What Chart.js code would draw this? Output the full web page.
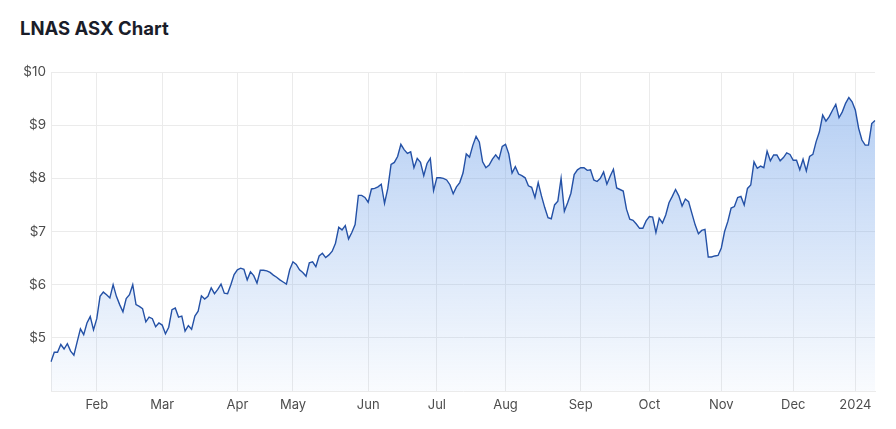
<!DOCTYPE html>
<html lang="en">
<head>
<meta charset="UTF-8">
<title>LNAS ASX Chart</title>
<script src="https://cdn.jsdelivr.net/npm/chart.js"></script>
<style>
    body {
        margin: 0;
        background: #fff;
        font-family: Inter, 'Noto Sans', Arial, sans-serif;
    }
    .wrap {
        position: relative;
        width: 896px;
        height: 429px;
    }
    h1 {
        position: absolute;
        left: 20px;
        top: 19px;
        margin: 0;
        font-size: 18.5px;
        line-height: 18px;
        font-weight: 700;
        color: #1a1d29;
    }
    canvas {
        position: absolute;
        left: 0;
        top: 0;
    }
</style>
</head>
<body>
<div class="wrap">
    <h1>LNAS ASX Chart</h1>
    <canvas id="chart" width="896" height="429"></canvas>
</div>
<script>
// trading days: first and last session, ASX holidays in between
const firstDay = '2023-01-11';
const lastDay = '2024-01-10';
const holidays = ['2023-01-26', '2023-04-07', '2023-04-10', '2023-04-25',
    '2023-06-12', '2023-12-25', '2023-12-26', '2024-01-01'];

// closing price, one per trading day
const prices = [
    4.55, 4.73, 4.73, 4.875, 4.79, 4.89, 4.75, 4.675, 4.925, 5.17, 5.06, 5.28, 5.4, 5.15,
    5.36, 5.78, 5.86, 5.81, 5.75, 6.0, 5.78, 5.625, 5.49, 5.74, 5.81, 6.0, 5.625, 5.59, 5.55, 5.3, 5.39, 5.36, 5.21, 5.28,
    5.24, 5.075, 5.2, 5.53, 5.56, 5.39, 5.41, 5.125, 5.23, 5.16, 5.41, 5.5, 5.79, 5.73, 5.78, 5.94, 5.83, 5.91, 6.01, 5.84, 5.83, 6.0, 6.19,
    6.28, 6.31, 6.29, 6.09, 6.24, 6.17, 6.03, 6.27, 6.27, 6.26, 6.23, 6.18, 6.14, 6.09, 6.05, 6.01, 6.28,
    6.43, 6.38, 6.28, 6.23, 6.16, 6.41, 6.43, 6.34, 6.54, 6.59, 6.51, 6.56, 6.63, 6.78, 7.08, 7.03, 7.11, 6.86, 6.98, 7.13, 7.68, 7.68, 7.64,
    7.55, 7.8, 7.81, 7.84, 7.89, 7.53, 7.81, 8.26, 8.3, 8.41, 8.64, 8.54, 8.47, 8.5, 8.2, 8.375, 8.3, 8.05, 8.28, 8.375, 7.77,
    8.01, 8.01, 8.0, 7.97, 7.88, 7.71, 7.84, 7.92, 8.1, 8.46, 8.4, 8.62, 8.79, 8.68, 8.31, 8.2, 8.25, 8.36, 8.44, 8.36, 8.6,
    8.64, 8.46, 8.1, 8.22, 8.08, 8.05, 8.01, 7.86, 7.83, 7.64, 7.92, 7.67, 7.45, 7.26, 7.24, 7.5, 7.57, 8.0, 7.38, 7.54, 7.72, 8.07, 8.16,
    8.2, 8.2, 8.15, 8.16, 7.97, 7.94, 8.0, 8.12, 7.89, 8.04, 8.17, 7.82, 7.79, 7.76, 7.42, 7.23, 7.21, 7.14, 7.06, 7.06, 7.2,
    7.28, 7.27, 6.98, 7.25, 7.16, 7.31, 7.54, 7.66, 7.79, 7.67, 7.48, 7.61, 7.56, 7.34, 7.125, 6.96, 7.02, 7.04, 6.52, 6.52, 6.54, 6.55,
    6.69, 7.0, 7.19, 7.44, 7.47, 7.64, 7.66, 7.5, 7.81, 7.875, 8.31, 8.19, 8.23, 8.2, 8.51, 8.33, 8.44, 8.44, 8.33, 8.39, 8.48, 8.45,
    8.34, 8.34, 8.16, 8.36, 8.14, 8.41, 8.45, 8.69, 8.875, 9.19, 9.075, 9.16, 9.28, 9.39, 9.14, 9.25, 9.41, 9.52, 9.44,
    9.28, 8.94, 8.72, 8.625, 8.625, 9.03, 9.09
];

const monthNames = ['Jan', 'Feb', 'Mar', 'Apr', 'May', 'Jun', 'Jul', 'Aug', 'Sep', 'Oct', 'Nov', 'Dec'];
const yTicks = [5, 6, 7, 8, 9, 10];

const dates = [];
for (let d = new Date(firstDay + 'T00:00:00Z'); d <= new Date(lastDay + 'T00:00:00Z'); d.setUTCDate(d.getUTCDate() + 1)) {
    const iso = d.toISOString().slice(0, 10);
    const wd = d.getUTCDay();
    if (wd === 0 || wd === 6 || holidays.includes(iso)) continue;
    dates.push(iso);
}

const gridColor = '#ebebeb';
const tickColor = '#4d4d4d';

const ctx = document.getElementById('chart').getContext('2d');
new Chart(ctx, {
    type: 'line',
    data: {
        labels: dates,
        datasets: [{
            data: prices,
            borderColor: '#2451a6',
            borderWidth: 1.4,
            pointRadius: 0,
            tension: 0,
            fill: 'start',
            backgroundColor: (c) => {
                const area = c.chart.chartArea;
                if (!area) return 'rgba(120,165,235,0.3)';
                const g = c.chart.ctx.createLinearGradient(0, area.top, 0, area.bottom);
                g.addColorStop(0, 'rgba(110,160,232,0.55)');
                g.addColorStop(1, 'rgba(110,160,232,0.04)');
                return g;
            }
        }]
    },
    options: {
        responsive: false,
        animation: false,
        layout: { padding: { top: 72, right: 21, left: 0, bottom: 0 } },
        plugins: {
            legend: { display: false },
            tooltip: { enabled: false }
        },
        scales: {
            x: {
                afterFit: (s) => { s.height = 38; },
                grid: { color: gridColor, drawTicks: false },
                border: { color: gridColor },
                ticks: {
                    autoSkip: false,
                    maxRotation: 0,
                    padding: 6,
                    color: tickColor,
                    font: { family: 'Inter', size: 13 },
                    callback: function (v, i) {
                        if (i === 0) return null;
                        const cur = dates[i], prev = dates[i - 1];
                        if (cur.slice(5, 7) === prev.slice(5, 7)) return null;
                        const m = parseInt(cur.slice(5, 7), 10) - 1;
                        return m === 0 ? cur.slice(0, 4) : monthNames[m];
                    }
                }
            },
            y: {
                min: 4,
                max: 10,
                afterFit: (s) => { s.width = 51; },
                afterBuildTicks: (s) => { s.ticks = [4].concat(yTicks).map(v => ({ value: v })); },
                grid: { color: gridColor, drawTicks: false },
                border: { color: gridColor },
                ticks: {
                    padding: 5,
                    color: tickColor,
                    font: { family: 'Inter', size: 13.5 },
                    callback: (v) => yTicks.includes(v) ? '$' + v : null
                }
            }
        }
    }
});
</script>
</body>
</html>
